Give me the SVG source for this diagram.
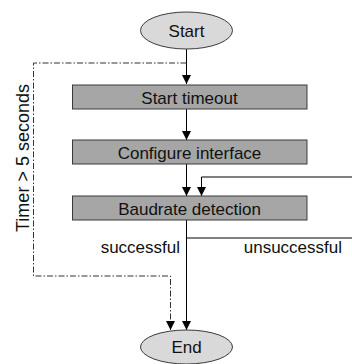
<svg xmlns="http://www.w3.org/2000/svg" width="352" height="364" viewBox="0 0 352 364">
<style>
.t{font-family:"Liberation Sans",Arial,sans-serif;font-size:17px;fill:#111}
.box{fill:#a6a6a6;stroke:#3a3a3a;stroke-width:1}
.ell{fill:#d9d9d9;stroke:#3a3a3a;stroke-width:1}
.ln{fill:none;stroke:#000;stroke-width:1}
.dd{fill:none;stroke:#333;stroke-width:1;stroke-dasharray:6,2,1.5,2}
</style>
<defs>
<marker id="ah" viewBox="0 0 10 10" refX="10" refY="5" markerWidth="9" markerHeight="9" markerUnits="userSpaceOnUse" orient="auto">
<path d="M0,0 L10,5 L0,10 z" fill="#000"/>
</marker>
</defs>
<rect width="352" height="364" fill="#fff"/>
<g id="connectors">
<path class="ln" d="M186.5,49 V84" marker-end="url(#ah)"/>
<path class="ln" d="M186.5,109 V140" marker-end="url(#ah)"/>
<path class="ln" d="M186.5,164 V196" marker-end="url(#ah)"/>
<path class="ln" d="M352,177 H201.5 V196" marker-end="url(#ah)"/>
<path class="ln" d="M186.5,220 V330" marker-end="url(#ah)"/>
<path class="ln" d="M186.5,238 H352"/>
<path class="dd" d="M186.5,63 H33.5 V276 H170.5 V330" marker-end="url(#ah)"/>
<text class="t" x="180" y="253" text-anchor="end">successful</text>
<text class="t" x="342" y="253" text-anchor="end">unsuccessful</text>
<text class="t" transform="translate(29,158) rotate(-90)" text-anchor="middle" style="font-size:18px">Timer &gt; 5 seconds</text>
</g>
<g id="start">
<ellipse class="ell" cx="186.5" cy="30.5" rx="46" ry="18.5"/>
<text class="t" x="186.5" y="36.5" text-anchor="middle">Start</text>
</g>
<g id="start-timeout">
<rect class="box" x="72.5" y="85" width="234.5" height="24"/>
<text class="t" x="189.5" y="103.5" text-anchor="middle">Start timeout</text>
</g>
<g id="configure-interface">
<rect class="box" x="72.5" y="140" width="234.5" height="24"/>
<text class="t" x="189.5" y="158.5" text-anchor="middle">Configure interface</text>
</g>
<g id="baudrate-detection">
<rect class="box" x="72.5" y="196" width="234.5" height="24"/>
<text class="t" x="189.5" y="214.5" text-anchor="middle">Baudrate detection</text>
</g>
<g id="end">
<ellipse class="ell" cx="186.5" cy="347" rx="46" ry="17"/>
<text class="t" x="186.5" y="353" text-anchor="middle">End</text>
</g>
</svg>
